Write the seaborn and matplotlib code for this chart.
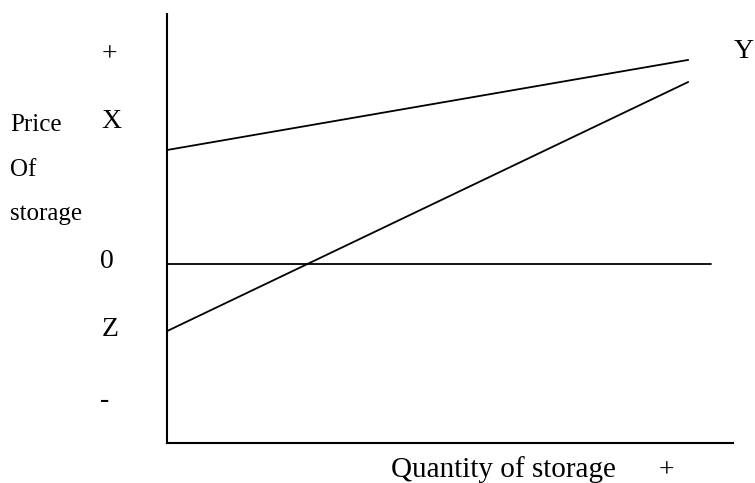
import pandas as pd
import matplotlib.pyplot as plt
import seaborn as sns

# storage supply diagram: price of storage vs quantity of storage
quantity = [0, 10]
line_x = [3.82, 6.84]      # upper line, starts at X, ends near Y
line_z = [-2.25, 6.10]     # lower line, starts at Z (below zero), ends near Y
zero_q = [0, 10.44]
zero_p = [0, 0]

df = pd.concat([
    pd.DataFrame({'Quantity': quantity, 'Price': line_x, 'Line': 'X'}),
    pd.DataFrame({'Quantity': quantity, 'Price': line_z, 'Line': 'Z'}),
    pd.DataFrame({'Quantity': zero_q, 'Price': zero_p, 'Line': '0'}),
], ignore_index=True)

sns.set_style('white')
plt.rcParams['font.family'] = ['Liberation Serif', 'DejaVu Serif']
plt.rcParams['text.color'] = 'black'

fig = plt.figure(figsize=(7.55, 4.83), dpi=100)
ax = fig.add_axes([0.2212, 0.0828, 0.7497, 0.8883])

sns.lineplot(data=df, x='Quantity', y='Price', units='Line', estimator=None,
             color='black', linewidth=1.3, ax=ax, legend=False)

ax.set_xlim(0, 10.86)
ax.set_ylim(-6.0, 8.38)
ax.set_xticks([])
ax.set_yticks([])
ax.set_xlabel('')
ax.set_ylabel('')
for s in ['top', 'right']:
    ax.spines[s].set_visible(False)
for s in ['left', 'bottom']:
    ax.spines[s].set_color('black')
    ax.spines[s].set_linewidth(1.5)

# axis annotations
big = 20
ax.text(-1.11, 7.0, '+', fontsize=big, ha='center', va='center', clip_on=False)
ax.text(-1.07, 4.76, 'X', fontsize=big, ha='center', va='center', clip_on=False)
ax.text(-1.15, 0.07, '0', fontsize=big, ha='center', va='center', clip_on=False)
ax.text(-1.09, -2.21, 'Z', fontsize=big, ha='center', va='center', clip_on=False)
ax.text(-1.19, -4.56, '-', fontsize=big, ha='center', va='center', clip_on=False)
ax.text(11.06, 7.11, 'Y', fontsize=big, ha='center', va='center', clip_on=False)

ax.text(-3.01, 4.66, 'Price', fontsize=18, ha='left', va='center', clip_on=False)
ax.text(-3.01, 3.15, 'Of', fontsize=18, ha='left', va='center', clip_on=False)
ax.text(-3.01, 1.68, 'storage', fontsize=18, ha='left', va='center', clip_on=False)

ax.text(6.45, -6.9, 'Quantity of storage', fontsize=21, ha='center', va='center', clip_on=False)
ax.text(9.58, -6.94, '+', fontsize=big, ha='center', va='center', clip_on=False)

plt.savefig('out.png', dpi=100)
plt.close()
